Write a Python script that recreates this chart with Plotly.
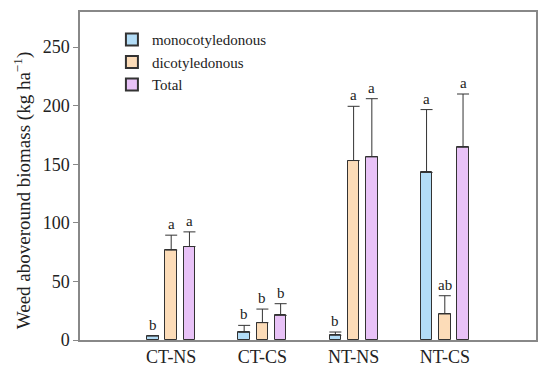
import plotly.graph_objects as go

categories = ["CT-NS", "CT-CS", "NT-NS", "NT-CS"]
series_names = ["monocotyledonous", "dicotyledonous", "Total"]
mono = [3.5, 6.5, 4.0, 143.0]
mono_err = [0.0, 6.0, 2.8, 53.7]
mono_sig = ["b", "b", "b", "a"]
dico = [76.7, 14.8, 153.2, 22.2]
dico_err = [12.8, 11.6, 46.3, 15.6]
dico_sig = ["a", "b", "a", "ab"]
total = [79.8, 21.0, 156.3, 164.5]
total_err = [12.5, 10.0, 49.7, 45.5]
total_sig = ["a", "b", "a", "a"]

colors = ["#b3ddf7", "#fcdcb8", "#e8c2f7"]
offsets = [-0.2, 0.0, 0.2]
FONT = "Liberation Serif"

fig = go.Figure()
annotations = []
pos = list(range(1, len(categories) + 1))
for name, vals, errs, sigs, col, off in zip(
        series_names, [mono, dico, total], [mono_err, dico_err, total_err],
        [mono_sig, dico_sig, total_sig], colors, offsets):
    xs = [p + off for p in pos]
    fig.add_trace(go.Bar(
        x=xs, y=vals, name=name, width=0.127,
        marker=dict(color=col, line=dict(color="#333333", width=1)),
        error_y=dict(type="data", symmetric=False, array=errs,
                     arrayminus=[0] * len(errs), color="#333333",
                     thickness=1, width=6),
    ))
    for x, v, e, s in zip(xs, vals, errs, sigs):
        annotations.append(dict(x=x, y=v + e, text=s, showarrow=False,
                                yanchor="bottom", yshift=1,
                                font=dict(family=FONT, size=15, color="#222")))

annotations.append(dict(
    xref="paper", yref="paper", x=-0.127, y=0.457,
    text="Weed aboveround biomass (kg ha<sup>\u22121</sup>)",
    textangle=-90, showarrow=False, xanchor="center", yanchor="middle",
    font=dict(family=FONT, size=19, color="#222")))

fig.update_layout(
    width=550, height=377,
    margin=dict(l=80, r=14, t=12, b=37),
    plot_bgcolor="white", paper_bgcolor="white",
    font=dict(family=FONT, size=17, color="#222"),
    showlegend=True,
    legend=dict(x=0.07, y=0.966, xanchor="left", yanchor="top",
                bgcolor="rgba(0,0,0,0)", font=dict(family=FONT, size=15),
                tracegroupgap=0, itemsizing="constant"),
    annotations=annotations,
    bargap=0, barmode="overlay",
)
fig.update_xaxes(range=[0, 5], tickvals=pos, ticktext=categories,
                 showline=True, linecolor="#888888", linewidth=1.5, mirror=True,
                 ticks="", showgrid=False, zeroline=False, automargin=False,
                 tickfont=dict(family=FONT, size=18))
fig.update_yaxes(range=[0, 280], tickvals=[0, 50, 100, 150, 200, 250],
                 showline=True, linecolor="#888888", linewidth=1.5, mirror=True,
                 ticks="outside", ticklen=5, tickcolor="#888888",
                 showgrid=False, zeroline=False, automargin=False,
                 tickfont=dict(family=FONT, size=18))

fig.write_html("out.html", config={"displayModeBar": False},
               post_script="document.body.style.margin='0';")
